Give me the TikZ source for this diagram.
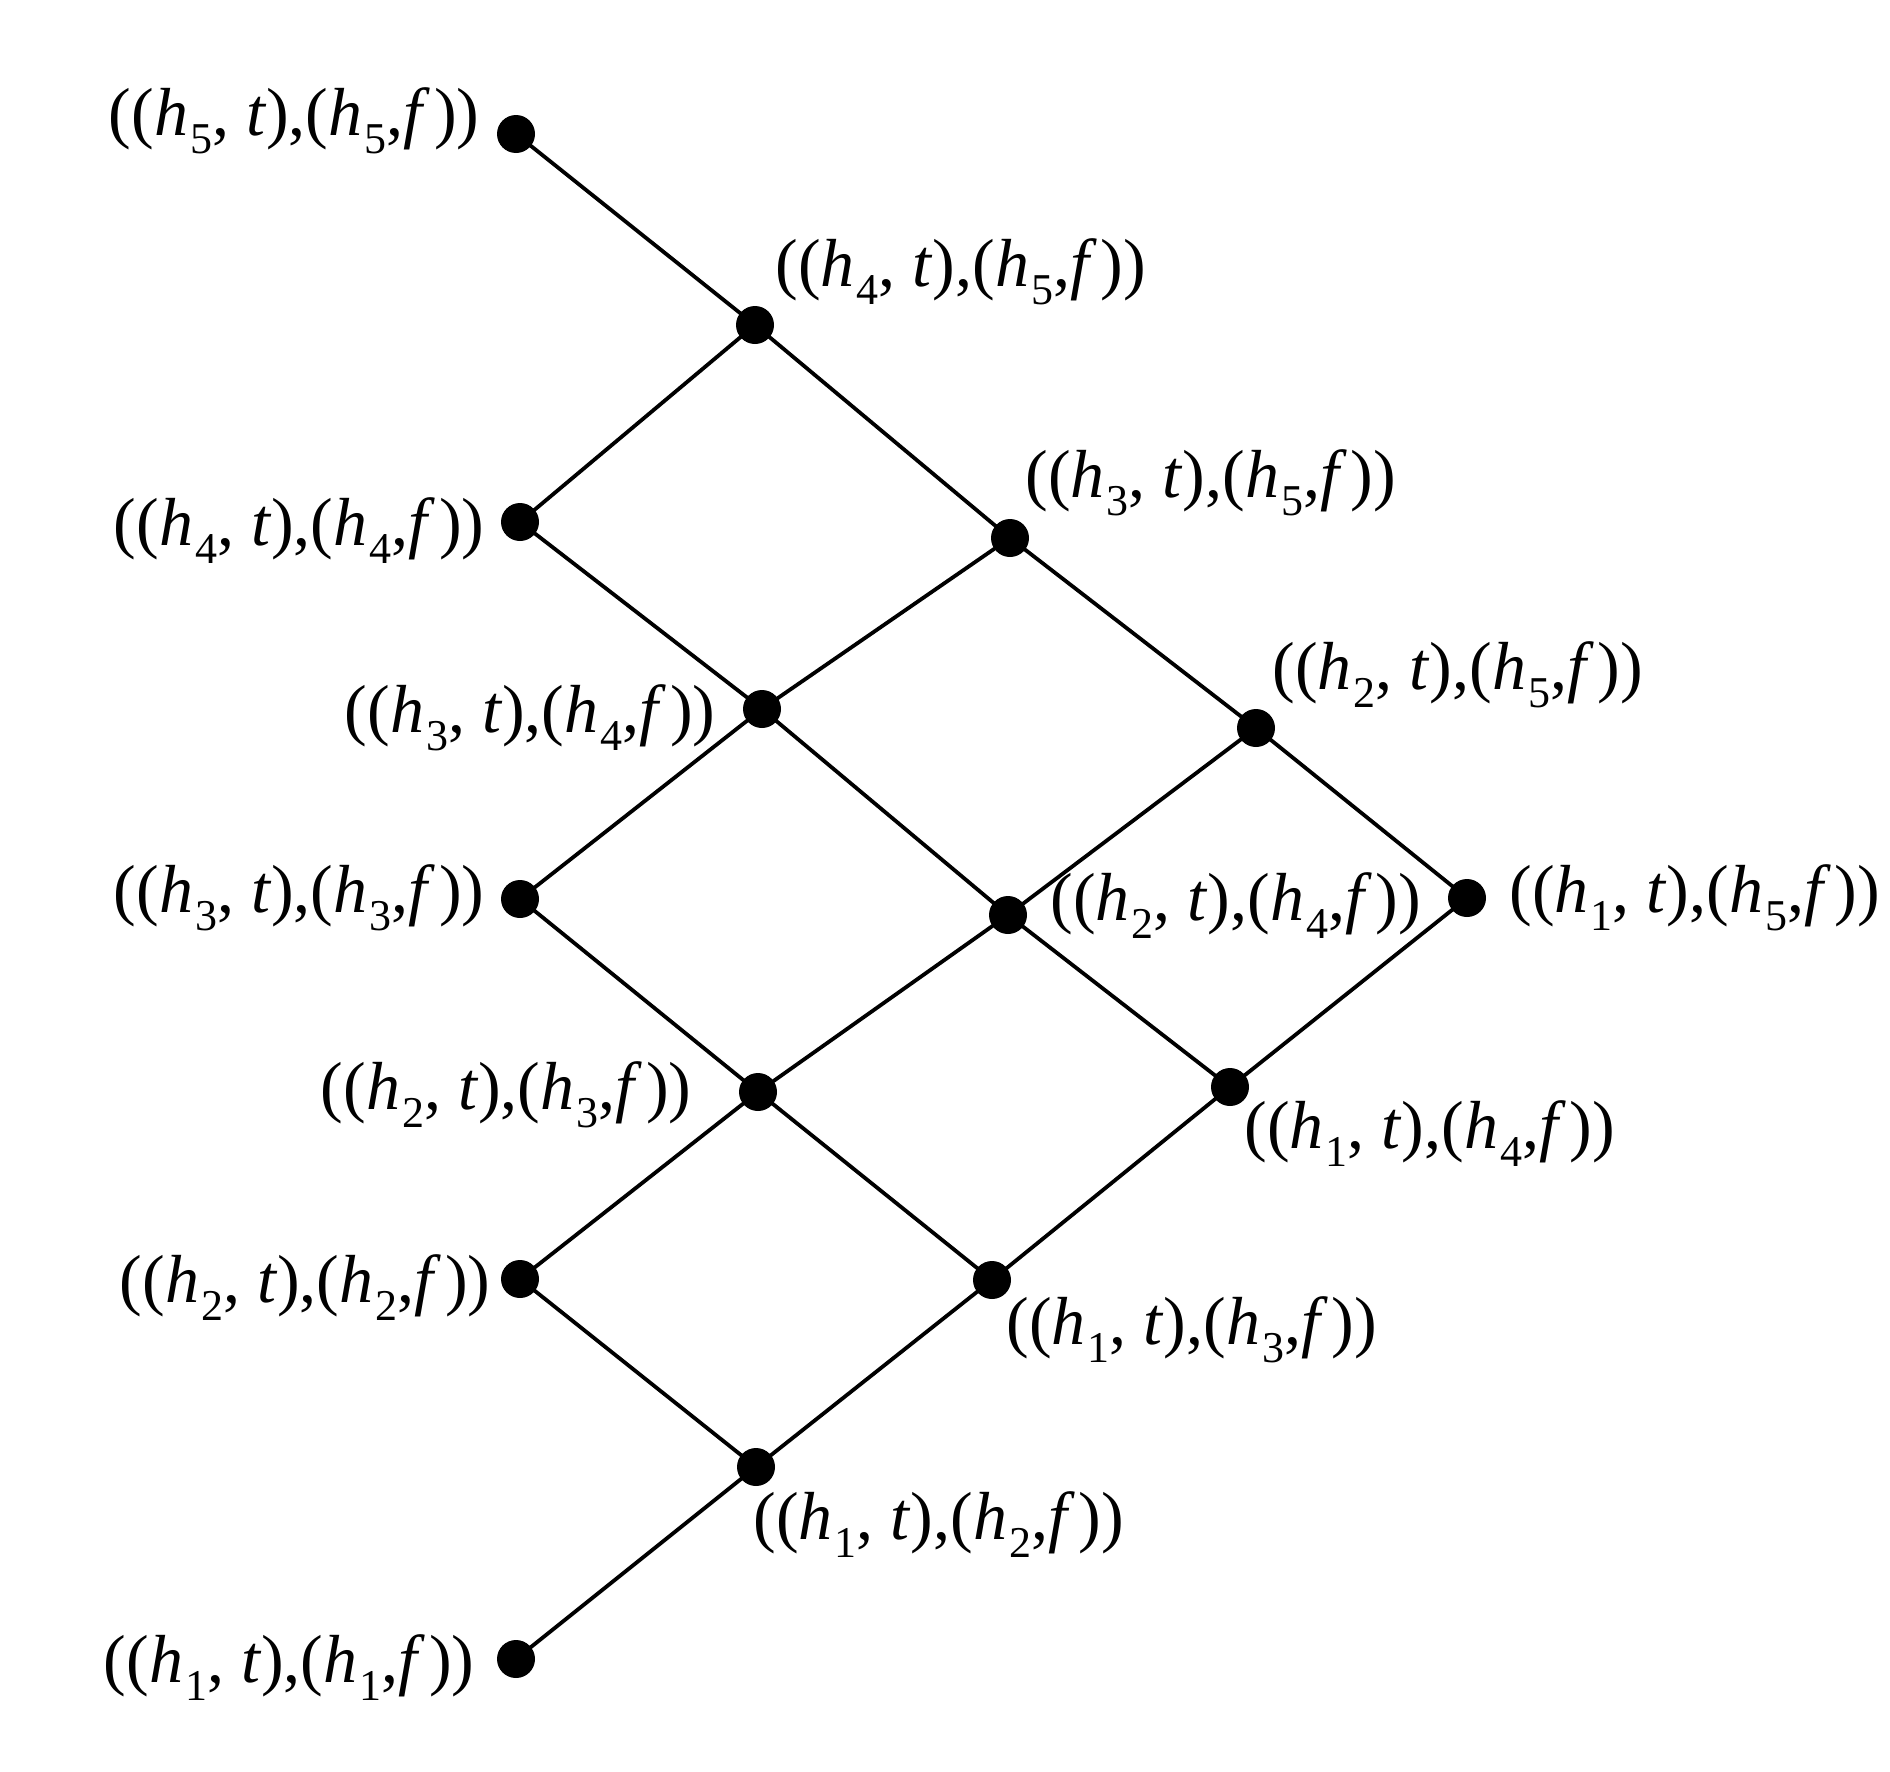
\documentclass[tikz,border=0pt]{standalone}
\usepackage{fontspec}
\setmainfont{Liberation Serif}
\newcommand{\mysub}[1]{\kern1pt\raisebox{-9pt}{\fontsize{22}{22}\selectfont #1}}
\newcommand{\pairlab}[2]{((\textit{h}\mysub{#1}, \textit{t}),(\textit{h}\mysub{#2},\textit{f}\kern2pt))}
\begin{document}
\begin{tikzpicture}[x=0.5pt,y=-0.5pt,
  dot/.style={circle,fill=black,inner sep=0pt,minimum size=19pt},
  lab/.style={inner sep=0pt,font=\fontsize{34}{40}\selectfont},
  edge/.style={line width=1.9pt}]
\useasboundingbox (0,0) rectangle (1890,1772);
\node[dot] (a55) at (516,134) {};
\node[dot] (a45) at (755,325) {};
\node[dot] (a44) at (520,522) {};
\node[dot] (a35) at (1010,538) {};
\node[dot] (a34) at (762,709) {};
\node[dot] (a25) at (1256,728) {};
\node[dot] (a33) at (520,899) {};
\node[dot] (a24) at (1008,915) {};
\node[dot] (a15) at (1467,898) {};
\node[dot] (a23) at (758,1092) {};
\node[dot] (a14) at (1230,1087) {};
\node[dot] (a22) at (520,1279) {};
\node[dot] (a13) at (992,1280) {};
\node[dot] (a12) at (756,1467) {};
\node[dot] (a11) at (516,1659) {};
\draw[edge] (a55.center) -- (a45.center);
\draw[edge] (a45.center) -- (a44.center);
\draw[edge] (a45.center) -- (a35.center);
\draw[edge] (a44.center) -- (a34.center);
\draw[edge] (a35.center) -- (a34.center);
\draw[edge] (a35.center) -- (a25.center);
\draw[edge] (a34.center) -- (a33.center);
\draw[edge] (a34.center) -- (a24.center);
\draw[edge] (a25.center) -- (a24.center);
\draw[edge] (a25.center) -- (a15.center);
\draw[edge] (a33.center) -- (a23.center);
\draw[edge] (a24.center) -- (a23.center);
\draw[edge] (a24.center) -- (a14.center);
\draw[edge] (a15.center) -- (a14.center);
\draw[edge] (a23.center) -- (a22.center);
\draw[edge] (a23.center) -- (a13.center);
\draw[edge] (a14.center) -- (a13.center);
\draw[edge] (a22.center) -- (a12.center);
\draw[edge] (a13.center) -- (a12.center);
\draw[edge] (a12.center) -- (a11.center);
\node[lab,anchor=base east] (l55) at (480,135) {\pairlab{5}{5}};
\node[lab,anchor=base west] (l45) at (775,286) {\pairlab{4}{5}};
\node[lab,anchor=base east] (l44) at (485,545) {\pairlab{4}{4}};
\node[lab,anchor=base west] (l35) at (1025,497) {\pairlab{3}{5}};
\node[lab,anchor=base east] (l34) at (716,732) {\pairlab{3}{4}};
\node[lab,anchor=base west] (l25) at (1272,689) {\pairlab{2}{5}};
\node[lab,anchor=base east] (l33) at (485,912) {\pairlab{3}{3}};
\node[lab,anchor=base west] (l24) at (1050,920) {\pairlab{2}{4}};
\node[lab,anchor=base west] (l15) at (1509,912) {\pairlab{1}{5}};
\node[lab,anchor=base east] (l23) at (692,1109) {\pairlab{2}{3}};
\node[lab,anchor=base west] (l14) at (1244,1148) {\pairlab{1}{4}};
\node[lab,anchor=base east] (l22) at (491,1302) {\pairlab{2}{2}};
\node[lab,anchor=base west] (l13) at (1006,1344) {\pairlab{1}{3}};
\node[lab,anchor=base west] (l12) at (753,1539) {\pairlab{1}{2}};
\node[lab,anchor=base east] (l11) at (475,1682) {\pairlab{1}{1}};
\end{tikzpicture}
\end{document}
